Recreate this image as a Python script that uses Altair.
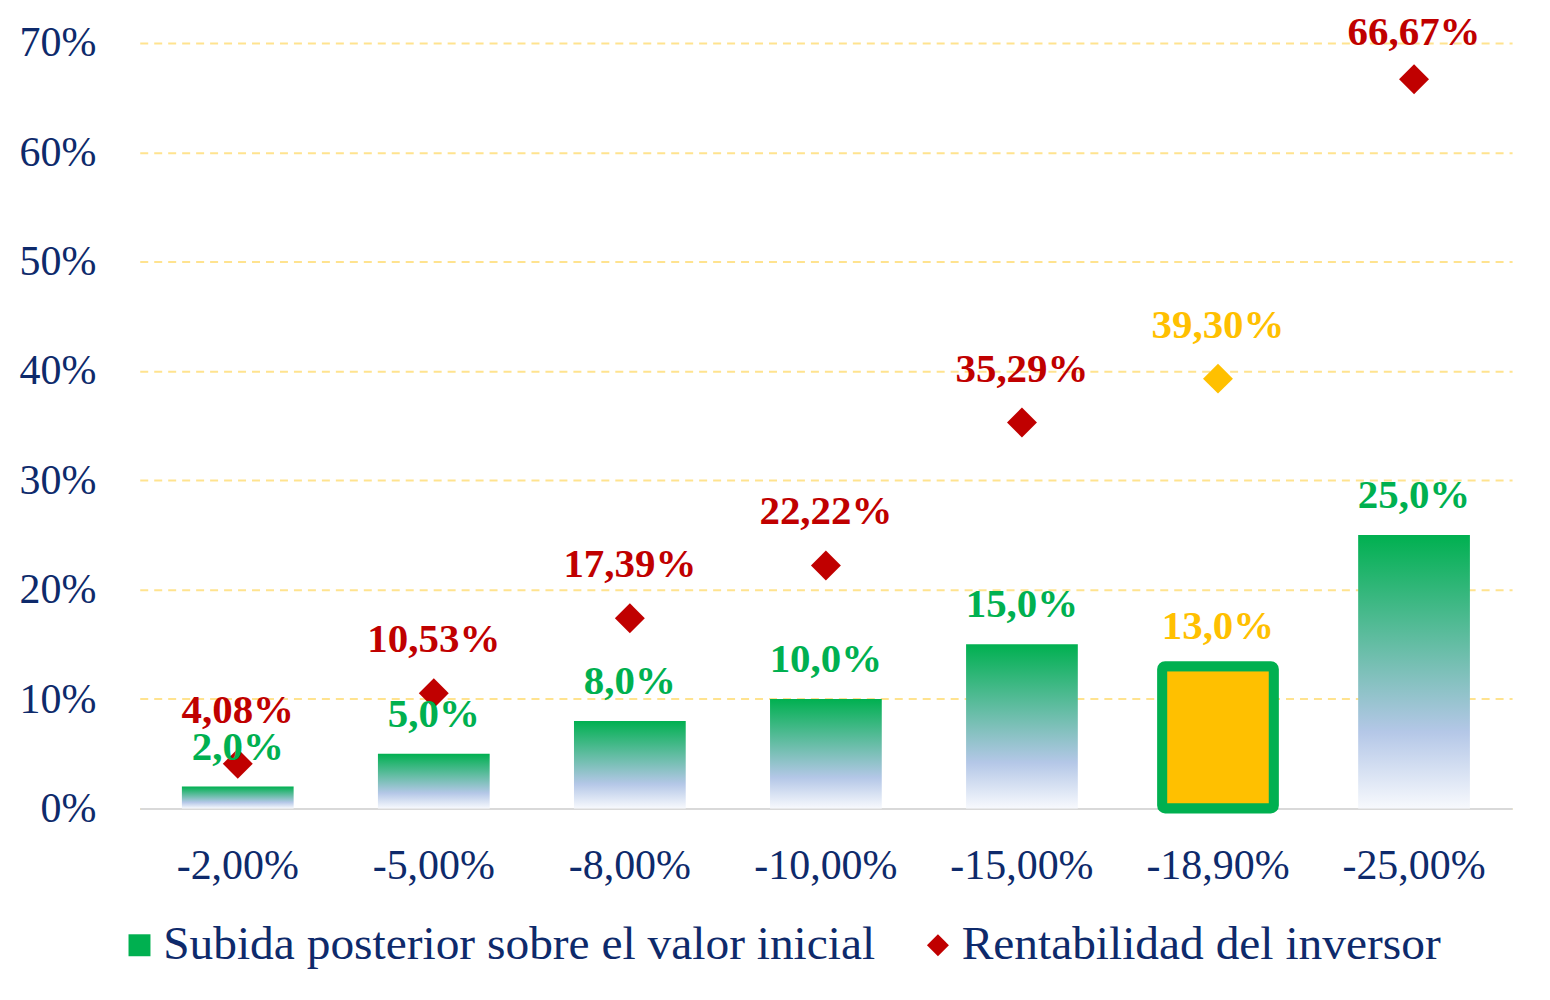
import altair as alt
import pandas as pd

# ---- data ----
caidas = ["-2,00%", "-5,00%", "-8,00%", "-10,00%", "-15,00%", "-18,90%", "-25,00%"]
subida = [2.0, 5.0, 8.0, 10.0, 15.0, 13.0, 25.0]
rentabilidad = [4.08, 10.53, 17.39, 22.22, 35.29, 39.30, 66.67]
y_ticks = [0, 10, 20, 30, 40, 50, 60, 70]
destacada = "-18,90%"

SERIE_BAR = "Subida posterior sobre el valor inicial"
SERIE_PT = "Rentabilidad del inversor"

def fmt(v, d):
    return f"{v:.{d}f}".replace(".", ",") + "%"

df = pd.DataFrame({
    "caida": caidas,
    "subida": subida,
    "rentab": rentabilidad,
    "subida_txt": [fmt(v, 1) for v in subida],
    "rentab_txt": [fmt(v, 2) for v in rentabilidad],
})

NAVY = "#0E2A6B"
GREEN = "#00B050"
RED = "#C00000"
YELLOW = "#FFC000"
FONT = "Liberation Serif"

grad = alt.Gradient(
    gradient="linear",
    stops=[
        alt.GradientStop(color=GREEN, offset=0),
        alt.GradientStop(color="#B4C7E7", offset=0.72),
        alt.GradientStop(color="#F7F9FD", offset=1),
    ],
    x1=1, x2=1, y1=0, y2=1,
)

x_enc = alt.X(
    "caida:N", sort=caidas, title=None,
    scale=alt.Scale(paddingInner=0.43, paddingOuter=0.215),
    axis=alt.Axis(labelFont=FONT, labelFontSize=42, labelColor=NAVY, labelAngle=0,
                  labelPadding=37, ticks=False, domainColor="#D9D9D9", domainWidth=2,
                  grid=False),
)
y_scale = alt.Scale(domain=[0, 70], nice=False)
y_axis = alt.Axis(values=y_ticks, labelExpr="datum.value + '%'", labelFont=FONT,
                  labelFontSize=42, labelColor=NAVY, labelPadding=44, ticks=False,
                  domain=False, grid=True, gridColor="#FFE38F", gridDash=[8, 6],
                  gridWidth=2, title=None)

base = alt.Chart(df)

bars = base.transform_filter(alt.datum.caida != destacada).mark_bar(color=grad).encode(
    x=x_enc,
    y=alt.Y("subida:Q", scale=y_scale, axis=y_axis),
)

bar_hl = base.transform_filter(alt.datum.caida == destacada).mark_bar(
    fill=YELLOW, stroke=GREEN, strokeWidth=10, cornerRadius=3
).encode(x=alt.X("caida:N", sort=caidas), y=alt.Y("subida:Q", scale=y_scale))

legend = alt.Legend(
    title=None, orient="none", legendX=-24, legendY=880, direction="horizontal",
    labelFont=FONT, labelFontSize=47.5, labelColor=NAVY, labelLimit=2000,
    symbolSize=484, labelOffset=0, columnPadding=38, padding=0,
    symbolStrokeWidth=0,
)

points = base.transform_filter(alt.datum.caida != destacada).transform_calculate(
    serie=f"'{SERIE_PT}'"
).mark_point(filled=True, size=900, opacity=1).encode(
    x=alt.X("caida:N", sort=caidas),
    y=alt.Y("rentab:Q", scale=y_scale),
    color=alt.Color("serie:N", scale=alt.Scale(domain=[SERIE_BAR, SERIE_PT], range=[GREEN, RED]),
                    legend=legend),
    shape=alt.Shape("serie:N", scale=alt.Scale(domain=[SERIE_BAR, SERIE_PT], range=["square", "diamond"]),
                    legend=legend),
)

point_hl = base.transform_filter(alt.datum.caida == destacada).mark_point(
    filled=True, size=900, opacity=1, shape="diamond", color=YELLOW
).encode(x=alt.X("caida:N", sort=caidas), y=alt.Y("rentab:Q", scale=y_scale))

is_hl = alt.datum.caida == destacada

bar_labels = base.mark_text(font=FONT, fontSize=41, fontWeight="bold", baseline="middle", dy=-39).encode(
    x=alt.X("caida:N", sort=caidas),
    y=alt.Y("subida:Q", scale=y_scale),
    text="subida_txt:N",
    color=alt.condition(is_hl, alt.value(YELLOW), alt.value(GREEN)),
)

# label anchor kept inside the top of the plot, as in the reference
pt_labels = base.transform_calculate(ly="min(datum.rentab, 66.05)").mark_text(
    font=FONT, fontSize=41, fontWeight="bold", baseline="middle", dy=-53
).encode(
    x=alt.X("caida:N", sort=caidas),
    y=alt.Y("ly:Q", scale=y_scale),
    text="rentab_txt:N",
    color=alt.condition(is_hl, alt.value(YELLOW), alt.value(RED)),
)

chart = alt.layer(bars, bar_hl, points, point_hl, bar_labels, pt_labels).properties(
    width=1375, height=767,
    autosize=alt.AutoSizeParams(type="none"),
    padding={"left": 132, "top": 34, "right": 30, "bottom": 190},
).configure(background="white").configure_view(stroke=None)

chart.save("out.html", embed_options={"renderer": "svg", "actions": False})
